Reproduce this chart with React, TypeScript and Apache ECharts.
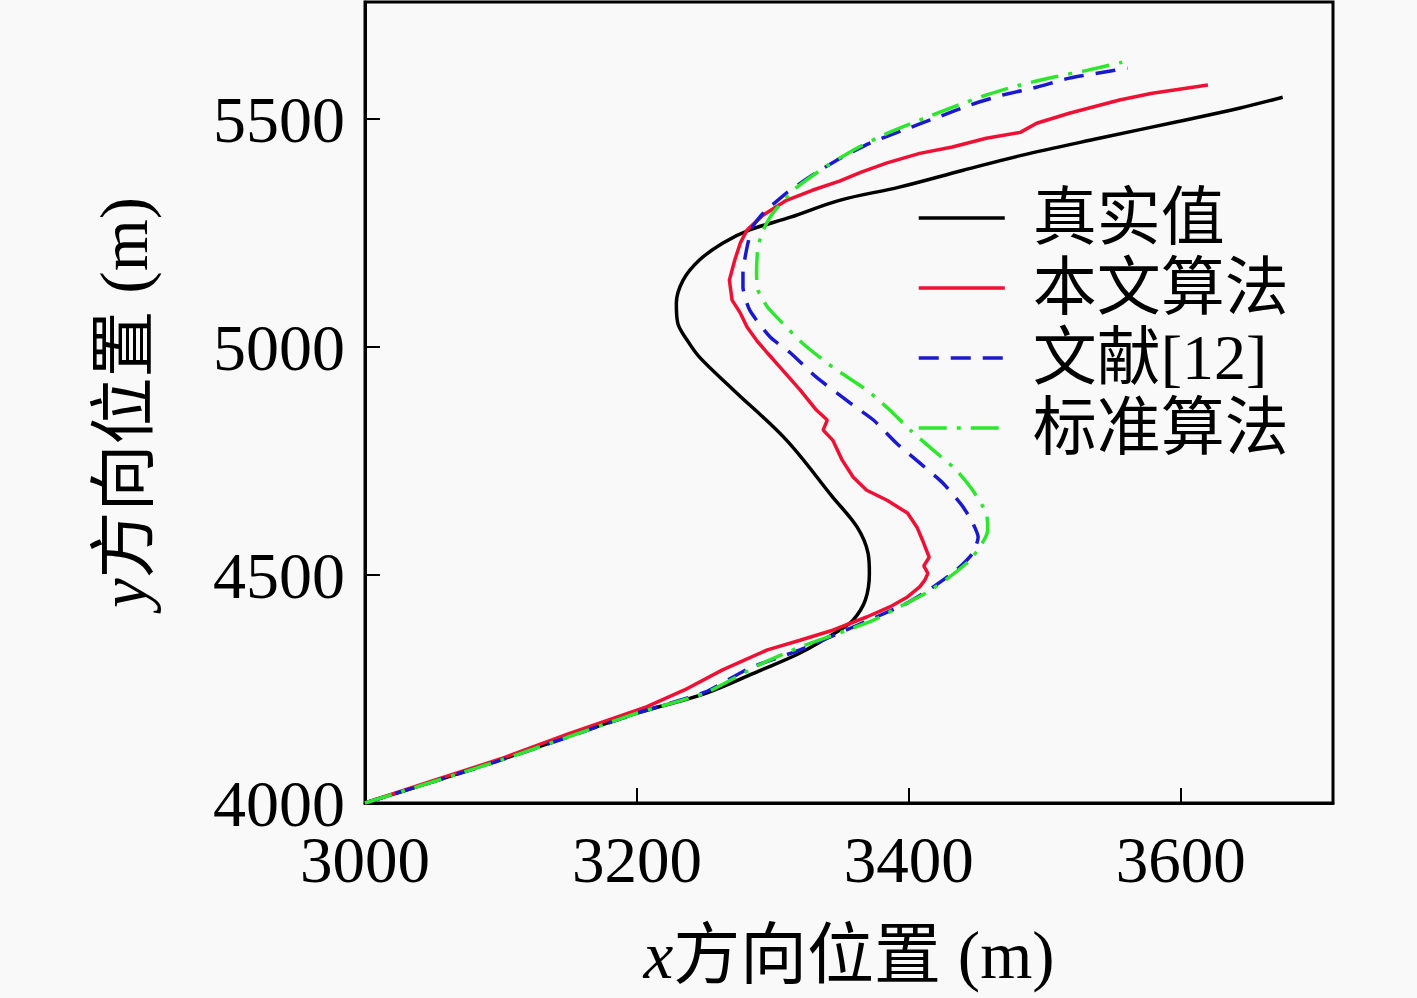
import { useEffect, useRef } from "react";
import * as echarts from "echarts";

// tick positions
const xTicks = [3000, 3200, 3400, 3600];
const yTicks = [4000, 4500, 5000, 5500];

// 真实值 (true track)
const trueTrack: [number, number][] = [
  [3000, 4000], [3100, 4095], [3200, 4197], [3250, 4240], [3290, 4290],
  [3320, 4329], [3349, 4379], [3359, 4401], [3368, 4445], [3371, 4504],
  [3370, 4548], [3362, 4605], [3344, 4671], [3310, 4796], [3271, 4906],
  [3246, 4978], [3237, 5015], [3230, 5053], [3229, 5096], [3234, 5147],
  [3246, 5191], [3263, 5228], [3283, 5257], [3313, 5285], [3349, 5322],
  [3393, 5351], [3440, 5388], [3482, 5420], [3540, 5458], [3600, 5496],
  [3643, 5524], [3675, 5548],
];

// 本文算法
const proposedTrack: [number, number][] = [
  [3000, 4000], [3050, 4049], [3100, 4097], [3150, 4152], [3207, 4211],
  [3235, 4248], [3263, 4292], [3296, 4336], [3320, 4357], [3344, 4379],
  [3369, 4408], [3386, 4430], [3399, 4452], [3408, 4474], [3412, 4490],
  [3414, 4504], [3411, 4520], [3415, 4539], [3410, 4577], [3406, 4605],
  [3399, 4636], [3384, 4664], [3369, 4686], [3359, 4715], [3351, 4752],
  [3344, 4796], [3337, 4818], [3340, 4840], [3332, 4862], [3320, 4906],
  [3307, 4950], [3296, 4987], [3288, 5015], [3281, 5044], [3276, 5075],
  [3270, 5103], [3268, 5147], [3272, 5191], [3276, 5228], [3281, 5257],
  [3293, 5290], [3310, 5322], [3329, 5344], [3349, 5364], [3365, 5384],
  [3384, 5404], [3408, 5425], [3432, 5439], [3457, 5458], [3482, 5471],
  [3494, 5491], [3518, 5513], [3555, 5542], [3579, 5557], [3604, 5568],
  [3620, 5575],
];

// 文献[12]
const refTrack: [number, number][] = [
  [3000, 4000], [3100, 4094], [3200, 4197], [3250, 4243], [3283, 4296],
  [3320, 4336], [3349, 4373], [3376, 4408], [3399, 4439], [3418, 4474],
  [3435, 4511], [3447, 4548], [3451, 4583], [3447, 4614], [3440, 4649],
  [3425, 4702], [3408, 4746], [3391, 4789], [3374, 4840], [3357, 4877],
  [3332, 4934], [3313, 4987], [3298, 5022], [3283, 5081], [3278, 5132],
  [3278, 5162], [3281, 5219], [3285, 5263], [3293, 5294], [3310, 5338],
  [3327, 5373], [3347, 5410], [3371, 5447], [3396, 5476], [3421, 5504],
  [3445, 5531], [3469, 5553], [3494, 5570], [3518, 5590], [3543, 5603],
  [3561, 5612],
];

// 标准算法
const standardTrack: [number, number][] = [
  [3000, 4000], [3100, 4094], [3200, 4197], [3250, 4241], [3290, 4303],
  [3320, 4342], [3349, 4373], [3374, 4401], [3393, 4430], [3413, 4461],
  [3430, 4496], [3445, 4533], [3454, 4570], [3458, 4599], [3457, 4636],
  [3447, 4686], [3435, 4730], [3418, 4774], [3401, 4818], [3386, 4862],
  [3369, 4906], [3344, 4956], [3322, 5008], [3307, 5053], [3296, 5088],
  [3289, 5125], [3288, 5162], [3289, 5219], [3293, 5257], [3300, 5294],
  [3315, 5344], [3335, 5388], [3359, 5432], [3384, 5469], [3408, 5498],
  [3432, 5526], [3457, 5553], [3482, 5575], [3506, 5592], [3531, 5607],
  [3557, 5625],
];

const SERIF = "'Liberation Serif', 'Noto Sans CJK SC', serif";

export default function App() {
  const ref = useRef<HTMLDivElement>(null);

  useEffect(() => {
    if (!ref.current) return;
    const chart = echarts.init(ref.current, undefined, { renderer: "svg" });

    const line = (name: string, data: [number, number][], color: string, type: any, smooth: number) => ({
      name,
      type: "line",
      data,
      showSymbol: false,
      symbol: "none",
      smooth,
      lineStyle: { color, width: 3.5, type },
      itemStyle: { color },
    });

    const nameStyle = {
      fontSize: 67, color: "#000", fontFamily: SERIF,
      rich: { i: { fontSize: 67, fontStyle: "italic", fontFamily: SERIF, color: "#000" } },
    };

    chart.setOption({
      animation: false,
      backgroundColor: "#f9f9f9",
      grid: {
        left: 365, right: 84, top: 2, bottom: 195,
        show: true, borderColor: "#000", borderWidth: 3, backgroundColor: "transparent",
      },
      legend: {
        orient: "vertical",
        left: 912,
        top: 181,
        itemWidth: 86,
        itemHeight: 20,
        itemGap: 6,
        itemStyle: { opacity: 0 },
        lineStyle: { width: 3.5 },
        data: ["真实值", "本文算法", "文献[12]", "标准算法"],
        textStyle: {
          fontSize: 64, color: "#000", fontFamily: SERIF,
          lineHeight: 63, padding: [0, 0, 0, 23],
        },
      },
      xAxis: {
        type: "value",
        min: 3000,
        max: 3712,
        name: "{i|x}方向位置 (m)",
        nameLocation: "middle",
        nameGap: 118,
        nameTextStyle: nameStyle,
        axisLine: { show: true, lineStyle: { color: "#000", width: 3 } },
        axisTick: { show: true, inside: true, length: 15, lineStyle: { color: "#000", width: 2 }, customValues: xTicks },
        axisLabel: {
          fontSize: 65, color: "#000", fontFamily: SERIF, margin: 24,
          customValues: xTicks, formatter: (v: number) => String(v),
        },
        splitLine: { show: false },
      },
      yAxis: {
        type: "value",
        min: 4000,
        max: 5757,
        name: "{i|y}方向位置 (m)",
        nameLocation: "middle",
        nameGap: 208,
        nameTextStyle: nameStyle,
        axisLine: { show: true, lineStyle: { color: "#000", width: 3 } },
        axisTick: { show: true, inside: true, length: 15, lineStyle: { color: "#000", width: 2 }, customValues: yTicks },
        axisLabel: {
          fontSize: 66, color: "#000", fontFamily: SERIF, margin: 20,
          customValues: yTicks, formatter: (v: number) => String(v),
        },
        splitLine: { show: false },
      },
      series: [
        line("真实值", trueTrack, "#000000", "solid", 0.35),
        line("本文算法", proposedTrack, "#ee1133", "solid", 0),
        line("文献[12]", refTrack, "#1a1acc", [20, 12], 0.2),
        line("标准算法", standardTrack, "#2ee62e", [28, 10, 4, 10], 0.2),
      ],
    });

    return () => chart.dispose();
  }, []);

  return (
    <div style={{ position: "fixed", left: 0, top: 0, width: 1417, height: 998, background: "#f9f9f9" }}>
      <div ref={ref} style={{ width: 1417, height: 998 }} />
    </div>
  );
}
